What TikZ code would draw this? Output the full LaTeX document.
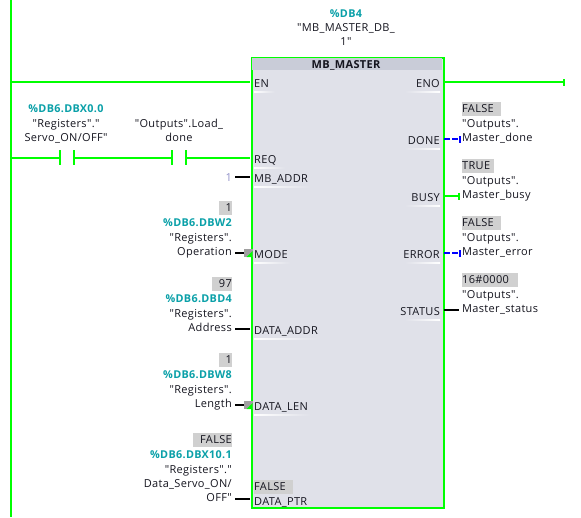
\documentclass[tikz,border=0pt]{standalone}
\usepackage{fontspec}
\setmainfont[LetterSpace=3,Ligatures=TeXOff]{Open Sans}
\definecolor{plc}{HTML}{00FF00}
\definecolor{blockfill}{HTML}{E0E1E9}
\definecolor{blockhead}{HTML}{C9CCD8}
\definecolor{valgray}{HTML}{D0D0D0}
\definecolor{addrteal}{HTML}{0AA0A8}
\definecolor{txt}{HTML}{15151F}
\definecolor{pinblue}{HTML}{0000FF}
\definecolor{pingray}{HTML}{A0A0A0}
\definecolor{lilac}{HTML}{9090C8}
\tikzset{
  every node/.style={font=\fontsize{11pt}{14pt}\selectfont, text=txt, inner sep=0pt},
  live/.style={draw=plc, line width=2pt},
  wire/.style={draw=black, line width=2pt},
  bluewire/.style={draw=pinblue, line width=2pt, dash pattern=on 6pt off 2pt},
  tick/.style={line width=1.5pt},
  leftlab/.style={anchor=base east, align=right},
  rightlab/.style={anchor=base west, align=left},
  midlab/.style={anchor=base, align=center},
  addr/.style={text=addrteal, font=\fontsize{10.8pt}{14pt}\selectfont\bfseries},
  valr/.style={fill=valgray, anchor=east, minimum height=14pt, text width=#1, align=right, text depth=3pt, text height=10pt},
  vall/.style={fill=valgray, anchor=west, minimum height=14pt, text width=#1, align=left, text depth=3pt, text height=10pt},
  pinname/.style={anchor=base west},
  outname/.style={anchor=base east},
}
\begin{document}
\begin{tikzpicture}[x=1pt,y=-1pt]
\useasboundingbox (0,0) rectangle (581,517);
% power rail
\coordinate (railtop) at (11,0);
\coordinate (railbot) at (11,517);
\draw[live] (railtop) -- (railbot);
% block
\node[draw=plc, line width=2pt, fill=blockfill, anchor=north west, minimum width=192pt, minimum height=450pt] (fb) at (251,57) {};
\fill[blockhead] (252,58) rectangle (442,70);
\node[font=\fontsize{11pt}{14pt}\selectfont\bfseries, anchor=base] (fbname) at (346,68) {MB\_MASTER};
% instance
\node[addr, anchor=base] (inst) at (346,17) {\%DB4};
\node[midlab] (instname) at (346,45) {"MB\_MASTER\_DB\_\\1"};
% pin underline highlights
\foreach \xa/\xb/\yy in {254/275/91, 254/285/167, 254/310/186, 254/290/262, 254/318/338, 254/310/414}{
  \shade[left color=white, right color=blockfill] (\xa,\yy) rectangle (\xb,\yy+1);
}
\foreach \xa/\xb/\yy in {405/440/91, 405/440/148, 405/440/205, 405/440/262, 405/440/319}{
  \shade[left color=blockfill, right color=white] (\xa,\yy) rectangle (\xb,\yy+1);
}
% input pin names
\node[pinname] (en) at (254,87) {EN};
\node[pinname] (req) at (254,163) {REQ};
\node[pinname] (mbaddr) at (254,182) {MB\_ADDR};
\node[pinname] (mode) at (254,258) {MODE};
\node[pinname] (dataaddr) at (254,334) {DATA\_ADDR};
\node[pinname] (datalen) at (254,410) {DATA\_LEN};
\node[pinname] (dataptr) at (254,505) {DATA\_PTR};
\node[vall=39pt] (ptrval) at (254,487) {FALSE};
% output pin names
\node[outname] (eno) at (440,87) {ENO};
\node[outname] (done) at (440,144) {DONE};
\node[outname] (busy) at (440,201) {BUSY};
\node[outname] (err) at (440,258) {ERROR};
\node[outname] (status) at (440,315) {STATUS};
% pin connection points
\coordinate (pEN) at (250,82);
\coordinate (pREQ) at (250,158);
\coordinate (pMB) at (250,177);
\coordinate (pMODE) at (244,253);
\coordinate (pADDR) at (250,329);
\coordinate (pLEN) at (244,405);
\coordinate (pPTR) at (250,499);
\coordinate (pENO) at (444,82);
\coordinate (pDONE) at (444,139);
\coordinate (pBUSY) at (444,196);
\coordinate (pERR) at (444,253);
\coordinate (pSTAT) at (444,310);
\coordinate (railEN) at (11,82);
\coordinate (railREQ) at (11,158);
\coordinate (endENO) at (564,82);
\coordinate (endDONE) at (460,139);
\coordinate (endBUSY) at (459,196);
\coordinate (endERR) at (460,253);
\coordinate (endSTAT) at (459,310);
\coordinate (lMB) at (235,177);
\coordinate (lMODE) at (235,253);
\coordinate (lADDR) at (235,329);
\coordinate (lLEN) at (235,405);
\coordinate (lPTR) at (235,499);
% contacts
\coordinate (c1a) at (60,158);
\coordinate (c1b) at (74,158);
\coordinate (c2a) at (172,158);
\coordinate (c2b) at (186,158);
\draw[live] (railEN) -- (pEN);
\draw[live] (railREQ) -- (c1a);
\draw[live] (c1b) -- (c2a);
\draw[live] (c2b) -- (pREQ);
\foreach \c in {c1a,c1b,c2a,c2b}{
  \draw[live] ([yshift=8pt]\c) -- ([yshift=-7pt]\c);
}
% output wires
\draw[live] (pENO) -- (endENO);
\draw[plc, tick] ([yshift=-3.5pt]endENO) -- ([yshift=3.5pt]endENO);
\draw[bluewire] (pDONE) -- (endDONE);
\draw[pinblue, tick] ([yshift=-3.5pt]endDONE) -- ([yshift=3.5pt]endDONE);
\draw[live] (pBUSY) -- (endBUSY);
\draw[plc, tick] ([yshift=-3.5pt]endBUSY) -- ([yshift=3.5pt]endBUSY);
\draw[bluewire] (pERR) -- (endERR);
\draw[pinblue, tick] ([yshift=-3.5pt]endERR) -- ([yshift=3.5pt]endERR);
\draw[wire] (pSTAT) -- (endSTAT);
% input wires
\draw[wire] (lMB) -- (pMB);
\draw[wire] (lMODE) -- (pMODE);
\draw[wire] (lADDR) -- (pADDR);
\draw[wire] (lLEN) -- (pLEN);
\draw[wire] (lPTR) -- (pPTR);
% implicit-conversion markers
\foreach \c in {pMODE,pLEN}{
  \fill[pingray] ([yshift=4pt]\c) rectangle ([xshift=8.5pt,yshift=-4pt]\c);
  \fill[plc] ([xshift=8.5pt,yshift=2pt]\c) -- ([xshift=8.5pt,yshift=-4pt]\c) -- ([xshift=2.5pt,yshift=-4pt]\c) -- cycle;
}
% contact labels
\node[addr, anchor=base] (c1addr) at (66,112) {\%DB6.DBX0.0};
\node[midlab] (c1lab) at (66,141) {"Registers"."\\Servo\_ON/OFF"};
\node[midlab] (c2lab) at (179,141) {"Outputs".Load\_\\done};
% input operands
\node[leftlab, text=lilac] (v1) at (232,181) {1};
\node[valr=13pt] (v2) at (232,208) {1};
\node[addr, anchor=base east] (a2) at (232,226) {\%DB6.DBW2};
\node[leftlab] (l2) at (232,255) {"Registers".\\Operation};
\node[valr=20pt] (v3) at (232,284) {97};
\node[addr, anchor=base east] (a3) at (232,302) {\%DB6.DBD4};
\node[leftlab] (l3) at (232,331) {"Registers".\\Address};
\node[valr=13pt] (v4) at (232,360) {1};
\node[addr, anchor=base east] (a4) at (232,378) {\%DB6.DBW8};
\node[leftlab] (l4) at (232,407) {"Registers".\\Length};
\node[valr=39pt] (v5) at (232,440) {FALSE};
\node[addr, anchor=base east] (a5) at (232,458) {\%DB6.DBX10.1};
\node[leftlab] (l5) at (232,501) {"Registers"."\\Data\_Servo\_ON/\\OFF"};
% output operands
\node[vall=39pt] (o1v) at (462,109) {FALSE};
\node[rightlab] (o1) at (462,141) {"Outputs".\\Master\_done};
\node[vall=32pt] (o2v) at (462,166) {TRUE};
\node[rightlab] (o2) at (462,198) {"Outputs".\\Master\_busy};
\node[vall=39pt] (o3v) at (462,223) {FALSE};
\node[rightlab] (o3) at (462,255) {"Outputs".\\Master\_error};
\node[vall=56pt] (o4v) at (462,280) {16\#0000};
\node[rightlab] (o4) at (462,312) {"Outputs".\\Master\_status};
\end{tikzpicture}
\end{document}
